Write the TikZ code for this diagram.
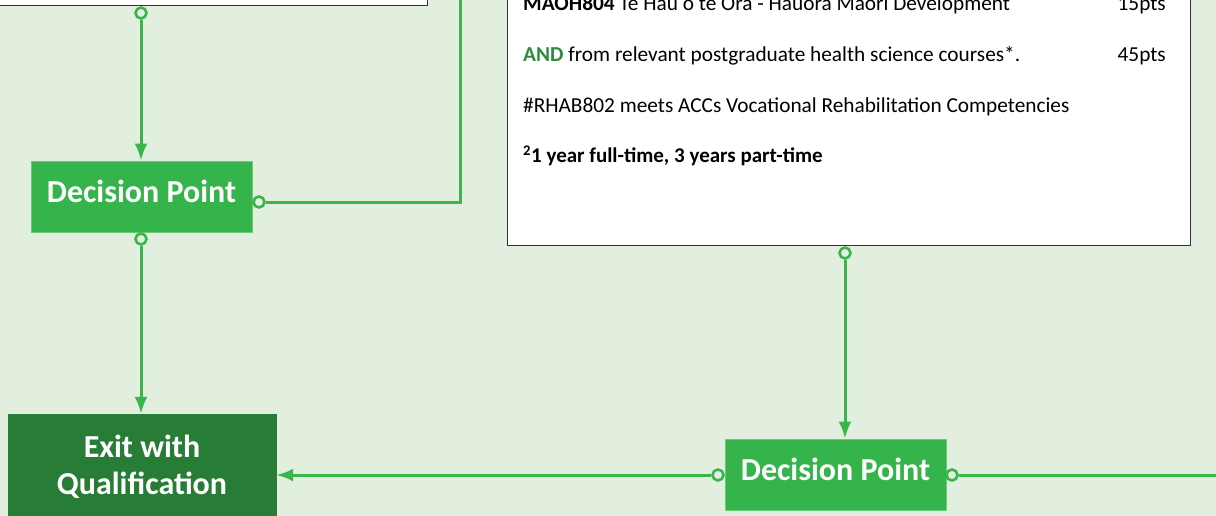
\documentclass[tikz,border=0pt]{standalone}
\usepackage{fontspec}
\setmainfont{Carlito}
\usetikzlibrary{arrows.meta}
\definecolor{bg}{HTML}{E2EFDE}
\definecolor{dpgreen}{HTML}{34B44B}
\definecolor{dpborder}{HTML}{6CC77A}
\definecolor{exitgreen}{HTML}{287D36}
\definecolor{linegreen}{HTML}{3AB54B}
\definecolor{andgreen}{HTML}{2E8B3E}
\tikzset{
  dpbox/.style={fill=dpgreen, draw=dpborder, line width=0.8pt, text=white,
    font=\fontsize{32}{37}\selectfont\bfseries, minimum width=221pt, minimum height=71pt,
    inner sep=0pt, text depth=10pt},
  exitbox/.style={fill=exitgreen, draw=exitgreen, text=white, align=center,
    font=\fontsize{32}{37}\selectfont\bfseries, minimum width=268pt, minimum height=105pt, inner sep=0pt},
  whitebox/.style={fill=white, draw=black!80, line width=0.8pt, inner sep=0pt},
  port/.style={circle, draw=linegreen, fill=bg, line width=2.6pt, minimum size=11pt, inner sep=0pt},
  conn/.style={draw=linegreen, line width=3pt},
  arr/.style={conn, -{Latex[length=17pt,width=13pt]}},
  body/.style={inner sep=0pt, font=\fontsize{21.3}{24}\selectfont},
}
\begin{document}
\begin{tikzpicture}[x=1pt,y=-1pt]
\clip (0,0) rectangle (1216,516);
\fill[bg] (0,0) rectangle (1216,516);
% boxes
\node[whitebox, minimum width=450pt, minimum height=30pt, anchor=south east] (tlbox) at (428,6) {};
\node[whitebox, minimum width=683pt, minimum height=270pt, anchor=south west] (trbox) at (507,246) {};
% right box text
\node[body, anchor=base west] (l1) at (523,11) {\textbf{MAOH804} Te Hau o te Ora - Hauora Maori Development};
\node[body, anchor=base east] (p1) at (1166,11) {15pts};
\node[body, anchor=base west] (l2) at (523,62) {\textcolor{andgreen}{\textbf{AND}} from relevant postgraduate health science courses*.};
\node[body, anchor=base east] (p2) at (1166,62) {45pts};
\node[body, anchor=base west] (l3) at (523,113) {\#RHAB802 meets ACCs Vocational Rehabilitation Competencies};
\node[body, anchor=base west, font=\fontsize{21}{24}\selectfont\bfseries] (l4) at (523,163) {\textsuperscript{2}1 year full-time, 3 years part-time};
% decision and exit nodes
\node[dpbox] (dp1) at (141.5,196.5) {Decision Point};
\node[dpbox] (dp2) at (835.5,474.5) {Decision Point};
\node[exitbox] (exit) at (142,466.5) {Exit with\\Qualification};
% ports
\node[port] (c1) at (141,13) {};
\node[port] (c2) at (259,202) {};
\node[port] (c3) at (141,239) {};
\node[port] (c4) at (718,475) {};
\node[port] (c5) at (845,253) {};
\node[port] (c6) at (952,475) {};
% free ends
\coordinate (up2) at (460,-10);
\coordinate (right6) at (1230,475);
% connectors
\draw[arr] (c1) -- (c1 |- dp1.north);
\draw[conn] (c2) -| (up2);
\draw[arr] (c3) -- (c3 |- exit.north);
\draw[arr] (c4) -- (c4 -| exit.east);
\draw[arr] (c5) -- (c5 |- dp2.north);
\draw[conn] (c6) -- (right6);
\end{tikzpicture}
\end{document}
